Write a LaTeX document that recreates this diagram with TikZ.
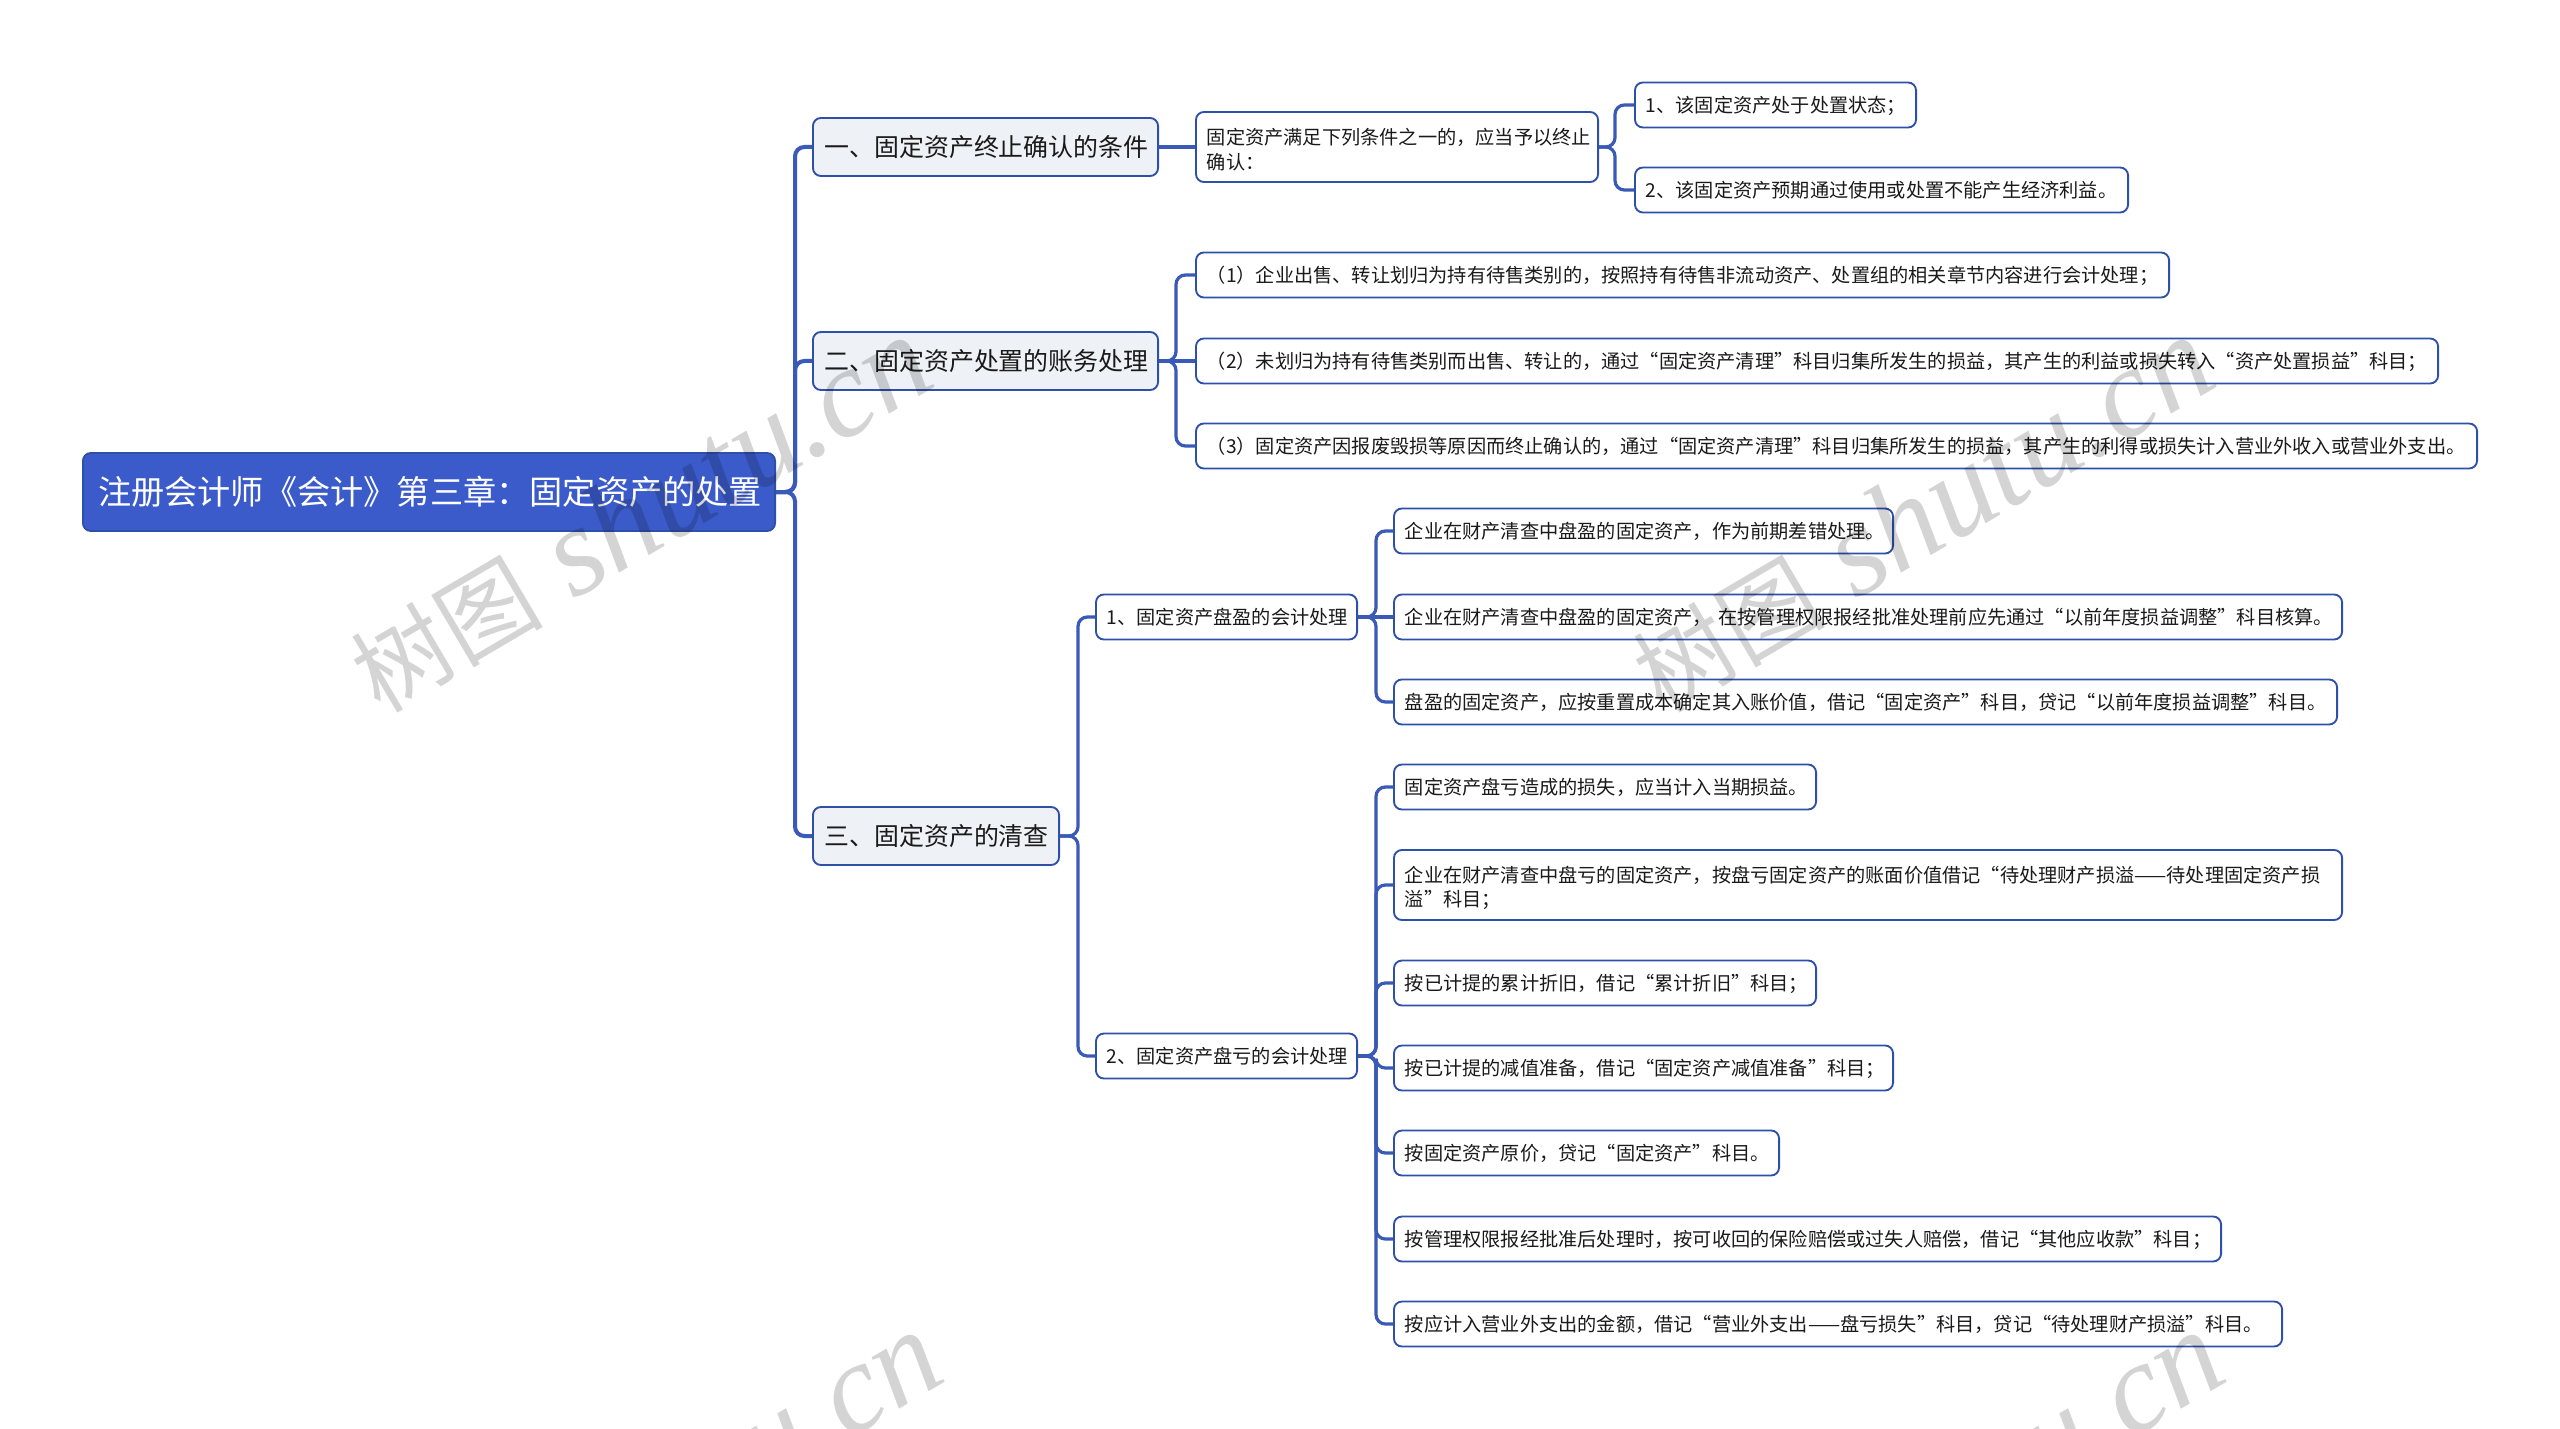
\documentclass[tikz,border=0pt]{standalone}
\usepackage{fontspec}
\setmainfont{Noto Sans CJK SC}
\newfontfamily\wmlatin{Liberation Serif}
\definecolor{rootfill}{HTML}{3C5BCB}
\definecolor{edge}{HTML}{2F50A8}
\definecolor{wire}{HTML}{3A5AB8}
\definecolor{subfill}{HTML}{EEF1F6}
\definecolor{ink}{HTML}{1A1A1A}
\newcommand\tstrut[2]{\rule[-#2]{0pt}{#1}}
\tikzset{
  box/.style={rectangle,rounded corners=3pt,draw=edge,line width=0.7pt,anchor=west,align=left,
    inner ysep=0pt,inner xsep=4.1pt,text=ink,font=\fontsize{7.2pt}{9.2pt}\selectfont,fill=white,
    execute at begin node={\tstrut{7.6pt}{1pt}},execute at end node={\tstrut{7.6pt}{1pt}}},
  rootbox/.style={rectangle,rounded corners=3pt,draw=edge,line width=0.7pt,anchor=west,align=left,
    inner ysep=0pt,fill=rootfill,text=white,inner xsep=5.7pt,font=\fontsize{12.45pt}{15pt}\selectfont},
  secbox/.style={rectangle,rounded corners=3pt,draw=edge,line width=0.7pt,anchor=west,align=left,
    inner ysep=0pt,text=ink,fill=subfill,inner xsep=4.3pt,font=\fontsize{9.35pt}{12pt}\selectfont,
    execute at begin node={\tstrut{10.1pt}{1.5pt}},execute at end node={\tstrut{10.1pt}{1.5pt}}},
  wire1/.style={draw=wire,line width=1.5pt,rounded corners=3.5pt},
  wire2/.style={draw=wire,line width=1.2pt,rounded corners=3.5pt},
  wmark/.style={rotate=30.5,text=black,opacity=0.17,font=\fontsize{36pt}{45pt}\selectfont}
}
% style, name, x1, x2, y centre, height, text
\newcommand\bx[7][box]{%
  \node[#1,minimum height=#6*0.375pt,
    text width=(#4-#3)*0.375pt-2*\pgfkeysvalueof{/pgf/inner xsep}-0.7pt] (#2) at (#3,#5) {#7};}
\newcommand\wm[2]{\node[wmark] at (#1,#2) {树图{\fontsize{47.5pt}{47.5pt}\selectfont\wmlatin\itshape\ shutu.cn}};}
\newcommand\link[4][wire2]{\draw[#1] (#2.east) -- (#3 |- #2.east) -- (#3 |- #4.west) -- (#4.west);}
\newcommand\direct[2]{\draw[wire2] (#1.east) -- (#2.west);}
\begin{document}
\begin{tikzpicture}[x=0.375pt,y=-0.375pt]
\useasboundingbox (0,0) rectangle (2560,1429);
\clip (0,0) rectangle (2560,1429);
\fill[white] (0,0) rectangle (2560,1429);
\coordinate (sp0) at (795,0);
\coordinate (sp1) at (1176,0);
\coordinate (sp2) at (1615,0);
\coordinate (sp3) at (1078,0);
\coordinate (sp4) at (1376,0);

\bx[rootbox]{root}{82}{776}{492}{78}{注册会计师《会计》第三章：固定资产的处置}
\bx[secbox]{a}{812}{1159}{147}{58}{一、固定资产终止确认的条件}
\bx[secbox]{b}{812}{1159}{361}{58}{二、固定资产处置的账务处理}
\bx[secbox]{c}{812}{1060}{836}{58}{三、固定资产的清查}

\bx{a1}{1195}{1599}{147}{70}{\rule{0pt}{8.4pt}固定资产满足下列条件之一的，应当予以终止\\确认：}
\bx{a11}{1634}{1917}{105}{45}{1、该固定资产处于处置状态；}
\bx{a12}{1634}{2129}{190}{45}{2、该固定资产预期通过使用或处置不能产生经济利益。}

\bx{b1}{1195}{2170}{275}{45}{（1）企业出售、转让划归为持有待售类别的，按照持有待售非流动资产、处置组的相关章节内容进行会计处理；}
\bx{b2}{1195}{2439}{361}{45}{（2）未划归为持有待售类别而出售、转让的，通过“固定资产清理”科目归集所发生的损益，其产生的利益或损失转入“资产处置损益”科目；}
\bx{b3}{1195}{2478}{446}{45}{（3）固定资产因报废毁损等原因而终止确认的，通过“固定资产清理”科目归集所发生的损益，其产生的利得或损失计入营业外收入或营业外支出。}

\bx{c1}{1095}{1358}{617}{45}{1、固定资产盘盈的会计处理}
\bx{c2}{1095}{1358}{1056}{45}{2、固定资产盘亏的会计处理}

\bx{l1}{1393}{1894}{531}{45}{企业在财产清查中盘盈的固定资产，作为前期差错处理。}
\bx{l2}{1393}{2343}{617}{45}{企业在财产清查中盘盈的固定资产， 在按管理权限报经批准处理前应先通过“以前年度损益调整”科目核算。}
\bx{l3}{1393}{2338}{702}{45}{盘盈的固定资产，应按重置成本确定其入账价值，借记“固定资产”科目，贷记“以前年度损益调整”科目。}

\bx{m1}{1393}{1817}{787}{45}{固定资产盘亏造成的损失，应当计入当期损益。}
\bx{m2}{1393}{2343}{885}{70}{\rule{0pt}{8.4pt}企业在财产清查中盘亏的固定资产，按盘亏固定资产的账面价值借记“待处理财产损溢——待处理固定资产损\\溢”科目；}
\bx{m3}{1393}{1817}{983}{45}{按已计提的累计折旧，借记“累计折旧”科目；}
\bx{m4}{1393}{1894}{1068}{45}{按已计提的减值准备，借记“固定资产减值准备”科目；}
\bx{m5}{1393}{1780}{1153}{45}{按固定资产原价，贷记“固定资产”科目。}
\bx{m6}{1393}{2222}{1239}{45}{按管理权限报经批准后处理时，按可收回的保险赔偿或过失人赔偿，借记“其他应收款”科目；}
\bx{m7}{1393}{2283}{1324}{45}{按应计入营业外支出的金额，借记“营业外支出——盘亏损失”科目，贷记“待处理财产损溢”科目。}

\link[wire1]{root}{sp0}{a}
\link[wire1]{root}{sp0}{b}
\link[wire1]{root}{sp0}{c}
\direct{a}{a1}
\link{a1}{sp2}{a11}
\link{a1}{sp2}{a12}
\link{b}{sp1}{b1}
\direct{b}{b2}
\link{b}{sp1}{b3}
\link{c}{sp3}{c1}
\link{c}{sp3}{c2}
\link{c1}{sp4}{l1}
\direct{c1}{l2}
\link{c1}{sp4}{l3}
\link{c2}{sp4}{m1}
\link{c2}{sp4}{m2}
\link{c2}{sp4}{m3}
\link{c2}{sp4}{m4}
\link{c2}{sp4}{m5}
\link{c2}{sp4}{m6}
\link{c2}{sp4}{m7}

\wm{640}{515}
\wm{1922}{515}
\wm{650}{1510}
\wm{1932}{1510}
\end{tikzpicture}
\end{document}
